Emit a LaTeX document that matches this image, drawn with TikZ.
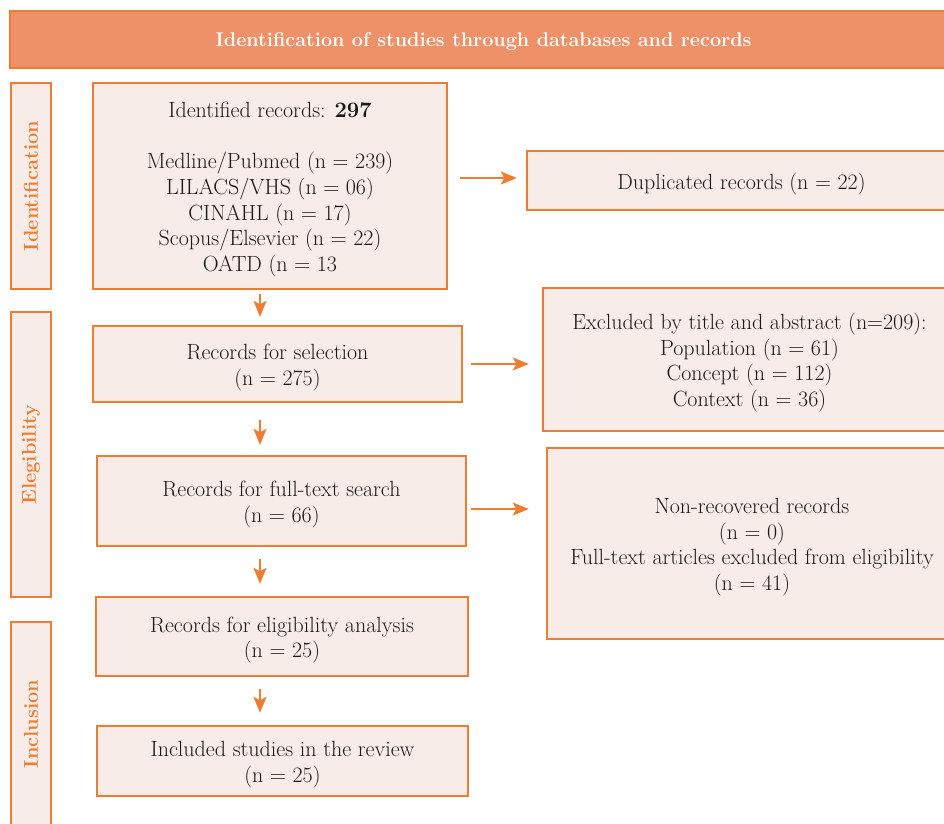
\documentclass[tikz,border=0pt]{standalone}
\usetikzlibrary{arrows.meta,calc}
\definecolor{orng}{HTML}{ED7D31}
\definecolor{barfill}{HTML}{EE9169}
\definecolor{boxfill}{HTML}{F8ECE8}
\definecolor{txt}{HTML}{1A1A1A}
\newcommand\tup{\rule{0pt}{22.5pt}}
\begin{document}
\begin{tikzpicture}[x=1pt,y=-1pt,
  bx/.style={draw=orng,fill=boxfill,line width=2.4pt,inner sep=0pt,align=center,text=txt,
    font=\fontsize{22}{25.7}\selectfont},
  lab/.style={draw=orng,fill=boxfill,line width=2.4pt,inner sep=0pt,minimum width=40pt},
  labtxt/.style={text=orng,font=\fontsize{20}{24}\selectfont\bfseries,rotate=90},
  arr/.style={draw=orng,line width=2pt,-{Stealth[length=16pt,width=13pt,inset=3.5pt]}}]
\clip (0,0) rectangle (944,823);
\fill[white] (0,0) rectangle (944,823);
% top bar
\node[draw=orng,fill=barfill,line width=2.4pt,minimum width=947pt,minimum height=57pt,inner sep=0pt,
  text=white,font=\fontsize{19.8}{24}\selectfont\bfseries] (bar) at (483.5,39.5)
  {\rule{0pt}{18pt}Identification of studies through databases and records};
% side labels
\node[lab,minimum height=206pt] (lid) at (31,186) {};
\node[labtxt] (tid) at (lid.center) {Identification};
\node[lab,minimum height=285pt] (lel) at (31,454.5) {};
\node[labtxt] (tel) at (lel.center) {Elegibility};
\node[lab,minimum height=204pt] (lin) at (31,724) {};
\node[labtxt] (tin) at (lin.center) {Inclusion};
% main column
\node[bx,minimum width=354pt,minimum height=206pt] (A) at (270,186)
  {\tup Identified records: \textbf{297}\\ \mbox{}\\ Medline/Pubmed (n = 239)\\ LILACS/VHS (n = 06)\\
   CINAHL (n = 17)\\ Scopus/Elsevier (n = 22)\\ OATD (n = 13};
\node[bx,minimum width=369pt,minimum height=76pt] (B) at (277.5,364)
  {\tup Records for selection\\ (n = 275)};
\node[bx,minimum width=369pt,minimum height=90pt] (C) at (281.5,501)
  {\tup Records for full-text search\\ (n = 66)};
\node[bx,minimum width=372pt,minimum height=79pt] (D) at (282,636.5)
  {\tup Records for eligibility analysis\\ (n = 25)};
\node[bx,minimum width=371pt,minimum height=70pt] (E) at (282.5,761)
  {\tup Included studies in the review\\ (n = 25)};
% right column
\node[bx,minimum width=429pt,minimum height=59pt] (dup) at (741.5,180.5)
  {\tup Duplicated records (n = 22)};
\node[bx,minimum width=413pt,minimum height=143pt] (exc) at (749.5,359.5)
  {\tup Excluded by title and abstract (n=209):\\ Population (n = 61)\\ Concept (n = 112)\\ Context (n = 36)};
\node[bx,minimum width=410pt,minimum height=191pt] (nr) at (752,543.5)
  {\tup Non-recovered records\\ (n = 0)\\ Full-text articles excluded from eligibility\\ (n = 41)};
% arrows
\coordinate (ax) at (260,0);
\draw[arr] ($(A.south -| ax)+(0,4)$) -- ($(B.north -| ax)+(0,-8)$);
\draw[arr] ($(B.south -| ax)+(0,17)$) -- ($(C.north -| ax)+(0,-10)$);
\draw[arr] ($(C.south -| ax)+(0,12)$) -- ($(D.north -| ax)+(0,-12)$);
\draw[arr] ($(D.south -| ax)+(0,12)$) -- ($(E.north -| ax)+(0,-12)$);
\draw[arr] ($(A.east)+(12,-8)$) -- ($(dup.west)+(-9,-2.5)$);
\draw[arr] ($(B.east)+(8,0)$) -- ($(exc.west)+(-13,4.5)$);
\draw[arr] ($(C.east)+(4,8)$) -- ($(nr.west)+(-17,-34.5)$);
\end{tikzpicture}
\end{document}
